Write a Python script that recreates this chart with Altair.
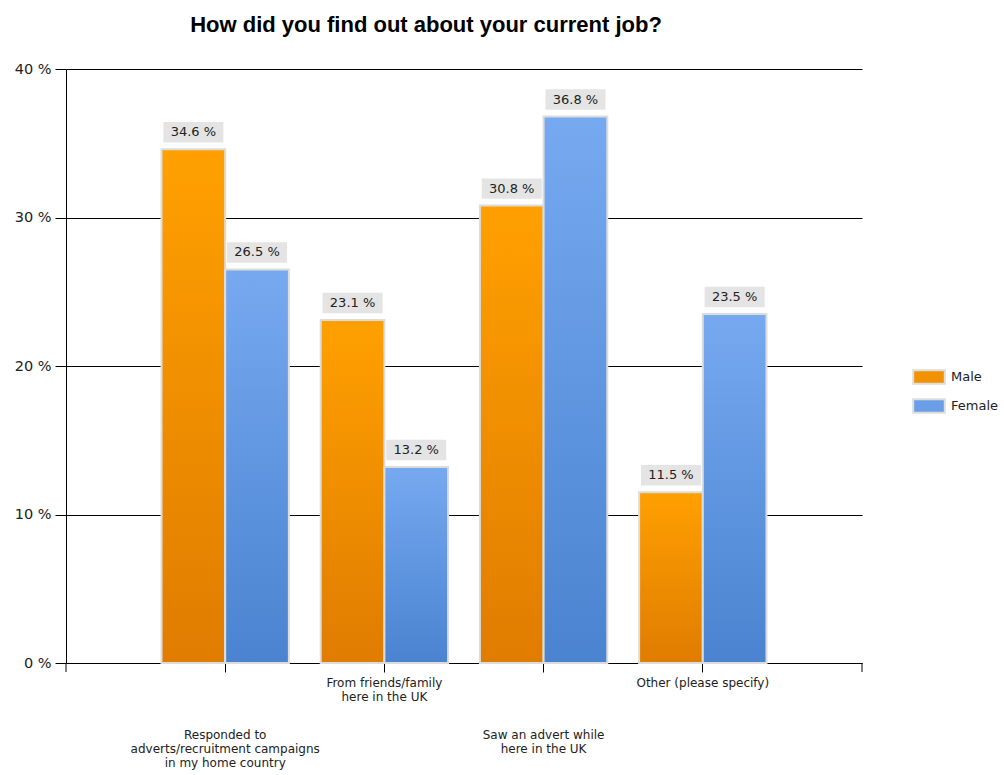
import altair as alt
import pandas as pd

categories = [
    "Responded to\nadverts/recruitment campaigns\nin my home country",
    "From friends/family\nhere in the UK",
    "Saw an advert while\nhere in the UK",
    "Other (please specify)",
]
cat_keys = ["Responded", "Friends", "Saw", "Other"]
male = [34.6, 23.1, 30.8, 11.5]
female = [26.5, 13.2, 36.8, 23.5]
genders = ["Male", "Female"]
y_ticks = [0, 10, 20, 30, 40]

rows = []
for k, m, f in zip(cat_keys, male, female):
    rows.append({"cat": k, "gender": "Male", "value": m})
    rows.append({"cat": k, "gender": "Female", "value": f})
df = pd.DataFrame(rows)
df["label"] = df["value"].map(lambda v: f"{v:.1f} %")

lab_df = pd.DataFrame({"cat": cat_keys, "text": categories, "row": [1, 0, 1, 0]})

W, H = 796, 594
FONT = "DejaVu Sans"

x_enc = alt.X("cat:N", sort=cat_keys,
              scale=alt.Scale(domain=cat_keys, paddingInner=0.2, paddingOuter=0.6),
              axis=alt.Axis(title=None, labels=False, domainColor="black", tickColor="black",
                            tickSize=9, domainWidth=1, tickWidth=1))
xo = alt.XOffset("gender:N", sort=genders, scale=alt.Scale(domain=genders, paddingInner=0, paddingOuter=0))
y_enc = alt.Y("value:Q", scale=alt.Scale(domain=[0, 40], nice=False),
              axis=alt.Axis(title=None, values=y_ticks, labelExpr="datum.value + ' %'",
                            grid=True, gridColor="black", gridOpacity=1, gridWidth=1,
                            domainColor="black", tickColor="black", tickSize=11,
                            labelFont=FONT, labelFontSize=14.5, labelColor="#222", labelPadding=4))

base = alt.Chart(df)

grad_m = alt.Gradient(gradient="linear", x1=0, y1=0, x2=0, y2=1,
                      stops=[alt.GradientStop(color="#FFA000", offset=0),
                             alt.GradientStop(color="#E07C00", offset=1)])
grad_f = alt.Gradient(gradient="linear", x1=0, y1=0, x2=0, y2=1,
                      stops=[alt.GradientStop(color="#76A9F0", offset=0),
                             alt.GradientStop(color="#4A83D0", offset=1)])

bars_m = base.transform_filter("datum.gender == 'Male'").mark_bar(
    fill=grad_m, stroke="#DCDCDC", strokeWidth=2).encode(x=x_enc, xOffset=xo, y=y_enc)
bars_f = base.transform_filter("datum.gender == 'Female'").mark_bar(
    fill=grad_f, stroke="#DCDCDC", strokeWidth=2).encode(x=x_enc, xOffset=xo, y="value:Q")

legend_layer = base.mark_point(opacity=0, filled=True).encode(
    x=x_enc, xOffset=xo, y="value:Q",
    color=alt.Color("gender:N", sort=genders,
                    scale=alt.Scale(domain=genders, range=["#F39200", "#6A9FE8"]),
                    legend=alt.Legend(title=None, orient="none", legendX=W + 50, legendY=291,
                                      symbolType="M-1,-0.42L1,-0.42L1,0.42L-1,0.42Z",
                                      symbolSize=1000, symbolOpacity=1,
                                      symbolStrokeColor="#DDDDDD", symbolStrokeWidth=2,
                                      labelFont=FONT, labelFontSize=13, labelColor="#222",
                                      rowPadding=1, labelOffset=5)),
)

boxes = base.mark_point(shape="M-1,-0.34L1,-0.34L1,0.34L-1,0.34Z", filled=True,
                        color="#E4E4E4", opacity=1, size=3600, yOffset=-17).encode(
    x=x_enc, xOffset=xo, y="value:Q")
texts = base.mark_text(font=FONT, fontSize=13, color="#222", dy=-17).encode(
    x=x_enc, xOffset=xo, y="value:Q", text="label:N")

cat_a = alt.Chart(lab_df).transform_filter("datum.row == 0").mark_text(
    font=FONT, fontSize=12, color="#222", baseline="top", lineBreak="\n", lineHeight=14
).encode(x=x_enc, y=alt.value(H + 15), text="text:N")
cat_b = alt.Chart(lab_df).transform_filter("datum.row == 1").mark_text(
    font=FONT, fontSize=12, color="#222", baseline="top", lineBreak="\n", lineHeight=14
).encode(x=x_enc, y=alt.value(H + 67), text="text:N")

edge_df = pd.DataFrame({"e": [0]})
edge_left = alt.Chart(edge_df).mark_rule(color="black").encode(
    x=alt.value(0), y=alt.value(H), y2=alt.value(H + 9))
edge_right = alt.Chart(edge_df).mark_rule(color="black").encode(
    x=alt.value(W), y=alt.value(H), y2=alt.value(H + 9))

chart = alt.layer(bars_m, bars_f, legend_layer, boxes, texts, cat_a, cat_b,
                  edge_left, edge_right).properties(
    width=W, height=H,
    title=alt.TitleParams("How did you find out about your current job?", font="Liberation Sans",
                          fontSize=22, fontWeight="bold", color="black", anchor="middle",
                          dx=-38, offset=24),
    autosize=alt.AutoSizeParams(type="none"),
    padding={"left": 66, "top": 69, "right": 142, "bottom": 112},
).configure_view(stroke=None).configure_axis(domainColor="black")

chart.save("out.html", embed_options={"renderer": "svg", "actions": False})
